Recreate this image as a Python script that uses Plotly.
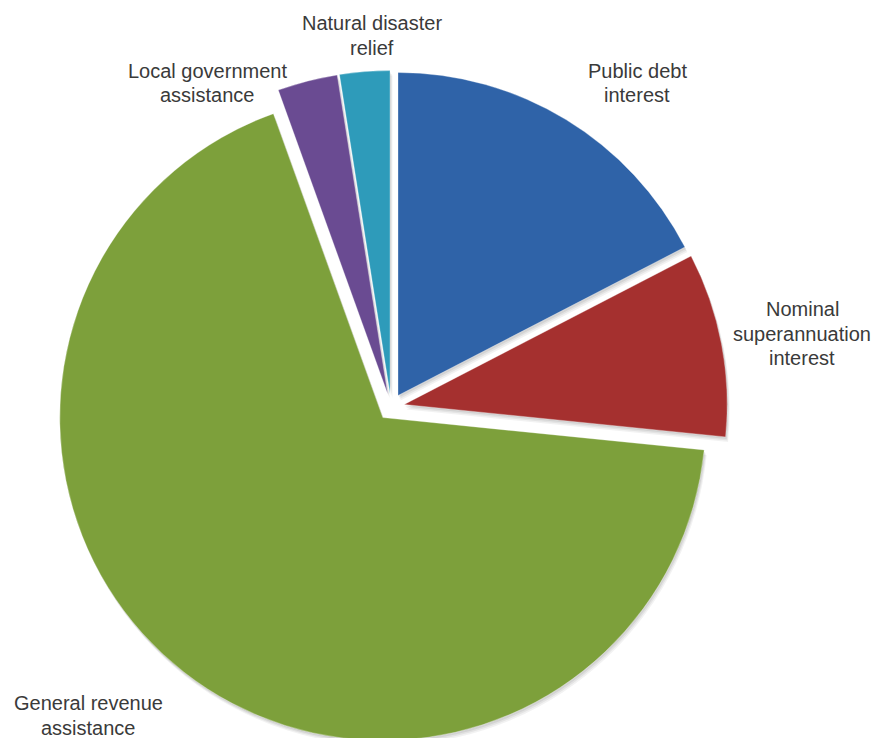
import plotly.graph_objects as go

# Shares of the grant / interest outlays (per cent), clockwise from 12 o'clock
categories = [
    "Public debt interest",
    "Nominal superannuation interest",
    "General revenue assistance",
    "Local government assistance",
    "Natural disaster relief",
]
shares = [17.4, 9.2, 67.9, 3.0, 2.5]
slice_colors = ["#2F63A8", "#A5302F", "#7DA03B", "#6A4B92", "#2E9BBA"]

# Wrapped label lines shown next to each slice
label_lines = [
    ["Public debt", "interest"],
    ["Nominal", "superannuation", "interest"],
    ["General revenue", "assistance"],
    ["Local government", "assistance"],
    ["Natural disaster", "relief"],
]

W, H = 875, 750
# label block anchors in pixels: (centre x, first-line centre y)
label_anchor = [(637, 71), (802, 309), (88, 703), (207, 71), (372, 23)]
line_step = 24.5

pie_domain = dict(x=[0.0624, 0.8314], y=[0.0088, 0.9059])
pull = 0.0415

fig = go.Figure()

# soft drop shadow built from a few faint, slightly offset copies
for off, alpha in [(5, 0.05), (3.5, 0.06), (2, 0.07)]:
    fig.add_trace(go.Pie(
        values=shares,
        labels=categories,
        sort=False,
        direction="clockwise",
        rotation=0,
        pull=[pull] * len(shares),
        marker=dict(colors=[f"rgba(0,0,0,{alpha})"] * len(shares),
                    line=dict(width=0)),
        textinfo="none",
        hoverinfo="skip",
        showlegend=False,
        domain=dict(x=[pie_domain["x"][0] + off * 0.5 / W,
                       pie_domain["x"][1] + off * 0.5 / W],
                    y=[pie_domain["y"][0] - off / H,
                       pie_domain["y"][1] - off / H]),
    ))

fig.add_trace(go.Pie(
    values=shares,
    labels=categories,
    sort=False,
    direction="clockwise",
    rotation=0,
    pull=[pull] * len(shares),
    marker=dict(colors=slice_colors,
                line=dict(color="rgba(255,255,255,0.6)", width=0.5)),
    textinfo="none",
    showlegend=False,
    domain=pie_domain,
))

for lines, (px, py) in zip(label_lines, label_anchor):
    for i, line in enumerate(lines):
        fig.add_annotation(
            text=line, x=px / W, y=1 - (py + i * line_step) / H,
            xref="paper", yref="paper",
            xanchor="center", yanchor="middle", showarrow=False,
            font=dict(family="Liberation Sans, Arial, sans-serif",
                      size=20, color="#3a3a3a"),
        )

fig.update_layout(
    width=W, height=H,
    margin=dict(l=0, r=0, t=0, b=0),
    paper_bgcolor="white",
    plot_bgcolor="white",
    showlegend=False,
)

fig.write_html(
    "out.html",
    post_script="document.documentElement.style.overflow='hidden';"
                "document.body.style.overflow='hidden';",
)
